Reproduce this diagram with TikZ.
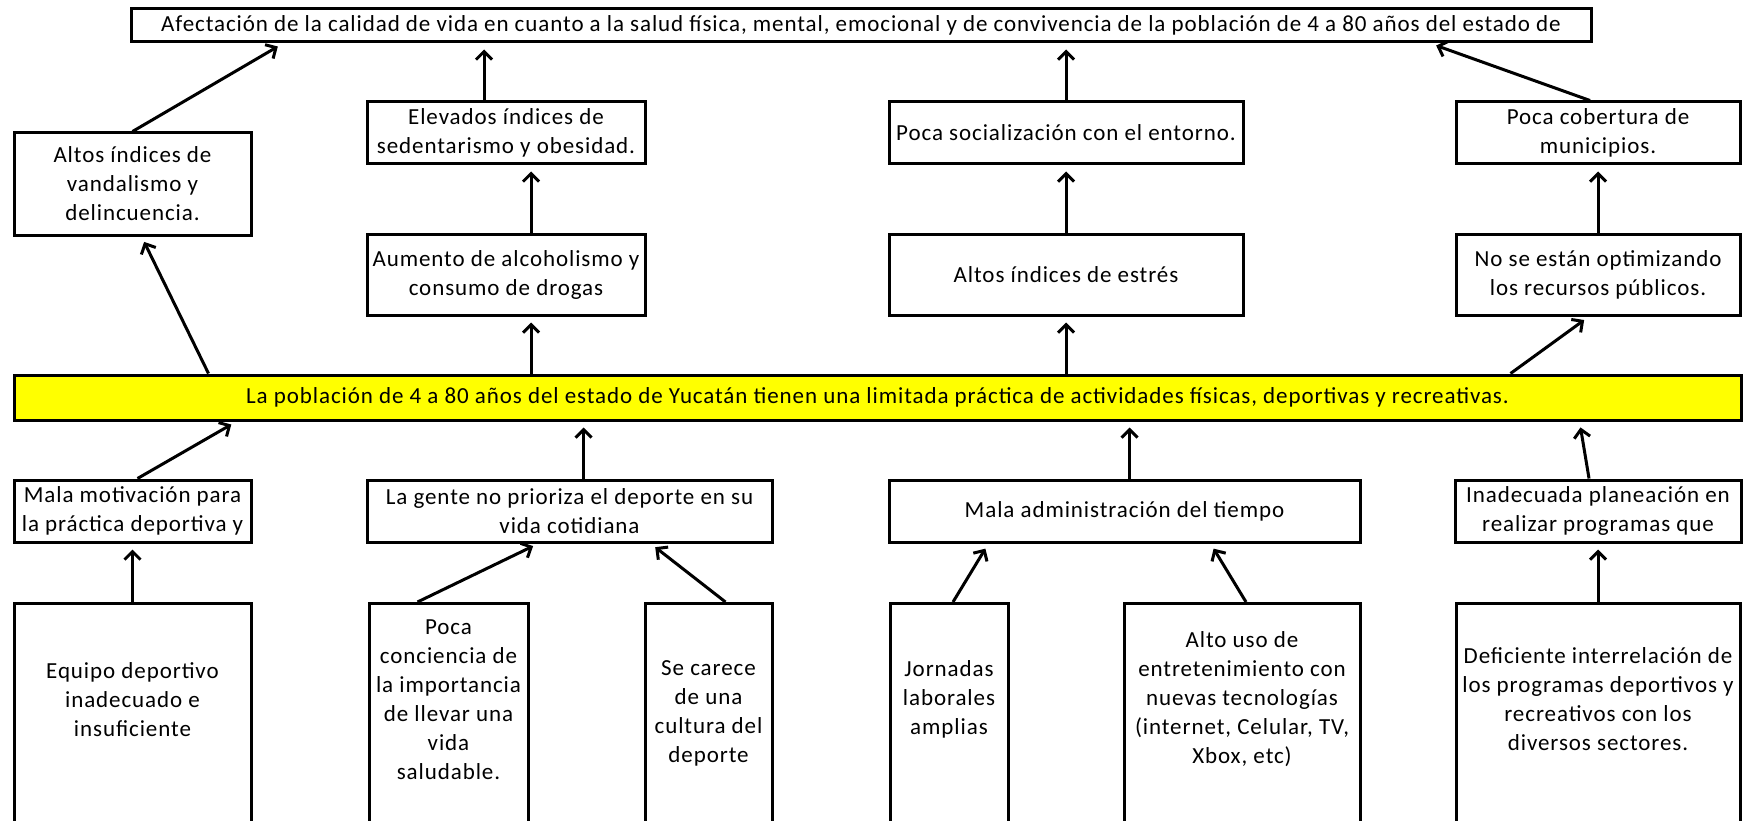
\documentclass[tikz,border=0pt]{standalone}
\usepackage{fontspec}
\setmainfont{Carlito}[LetterSpace=4]
\usetikzlibrary{arrows.meta,positioning}
\definecolor{amarillo}{HTML}{FFFF00}

\tikzset{
  caja/.style={draw,line width=3pt,align=center,inner xsep=2pt,inner ysep=0pt},
  efecto/.style={caja,minimum height=62pt},
  causa/.style={caja,minimum height=228pt,anchor=north},
  causatxt/.style={align=center,yshift=18pt},
  flecha/.style={-{Straight Barb[length=8pt,width=16pt]},line width=3pt,shorten >=6pt},
}

\begin{document}
\begin{tikzpicture}[x=1pt,y=-1pt,font=\fontsize{23}{29}\selectfont]
  \useasboundingbox (0,0) rectangle (1750,821);
  % efecto final y problema central
  \node[caja,minimum width=1460pt,minimum height=33pt] (fin) at (861,25.5)
    {Afectación de la calidad de vida en cuanto a la salud física, mental, emocional y de convivencia de la población de 4 a 80 años del estado de};
  \node[caja,fill=amarillo,minimum width=1727pt,minimum height=45pt] (prob) at (877.5,397.5)
    {La población de 4 a 80 años del estado de Yucatán tienen una limitada práctica de actividades físicas, deportivas y recreativas.};

  % efectos
  \node[caja,minimum width=237pt,minimum height=102pt] (e1) at (132.5,184) {Altos índices de\\vandalismo y\\delincuencia.};
  \node[efecto,minimum width=278pt] (e2) at (506,133) {Elevados índices de\\sedentarismo y obesidad.};
  \node[efecto,minimum width=354pt] (e3) at (1066,133) {Poca socialización con el entorno.};
  \node[efecto,minimum width=284pt] (e4) at (1598,133) {Poca cobertura de\\municipios.};
  \node[caja,minimum width=278pt,minimum height=81pt] (e5) at (506,274.5) {Aumento de alcoholismo y\\consumo de drogas};
  \node[caja,minimum width=354pt,minimum height=81pt] (e6) at (1066,274.5) {Altos índices de estrés};
  \node[caja,minimum width=284pt,minimum height=81pt] (e7) at (1598,274.5) {No se están optimizando\\los recursos públicos.};

  % causas
  \node[efecto,minimum width=237pt] (c1) at (132.5,511) {Mala motivación para\\la práctica deportiva y};
  \node[efecto,minimum width=405pt] (c2) at (569.5,511) {La gente no prioriza el deporte en su\\vida cotidiana};
  \node[efecto,minimum width=471pt] (c3) at (1124.5,511) {Mala administración del tiempo};
  \node[efecto,minimum width=286pt] (c4) at (1598,511) {Inadecuada planeación en\\realizar programas que};

  % causas de fondo
  \node[causa,minimum width=237pt,label={[causatxt]center:{Equipo deportivo\\inadecuado e\\insuficiente}}] (r1) at (132.5,602) {};
  \node[causa,minimum width=159pt,label={[causatxt]center:{Poca\\conciencia de\\la importancia\\de llevar una\\vida\\saludable.}}] (r2) at (448.5,602) {};
  \node[causa,minimum width=127pt,label={[causatxt,yshift=-14pt]center:{Se carece\\de una\\cultura del\\deporte}}] (r3) at (708.5,602) {};
  \node[causa,minimum width=118pt,label={[causatxt]center:{Jornadas\\laborales\\amplias}}] (r4) at (949,602) {};
  \node[causa,minimum width=236pt,label={[causatxt]center:{Alto uso de\\entretenimiento con\\nuevas tecnologías\\(internet, Celular, TV,\\Xbox, etc)}}] (r5) at (1242,602) {};
  \node[causa,minimum width=284pt,label={[causatxt]center:{Deficiente interrelación de\\los programas deportivos y\\recreativos con los\\diversos sectores.}}] (r6) at (1598,602) {};

  % flechas hacia arriba
  \draw[flecha] (e1.north) -- ([xshift=-578pt]fin.south);
  \draw[flecha] ([xshift=-22pt]e2.north) -- ([xshift=-22pt]e2.north |- fin.south);
  \draw[flecha] (e3.north) -- (e3.north |- fin.south);
  \draw[flecha] ([xshift=-8pt]e4.north) -- ([xshift=-162pt]fin.south east);
  \draw[flecha] ([xshift=25pt]e5.north) -- ([xshift=25pt]e2.south);
  \draw[flecha] (e6.north) -- (e3.south);
  \draw[flecha] (e7.north) -- (e4.south);
  \draw[flecha] ([xshift=196pt]prob.north west) -- ([xshift=9pt]e1.south);
  \draw[flecha] ([xshift=25pt]e5.south |- prob.north) -- ([xshift=25pt]e5.south);
  \draw[flecha] (e6.south |- prob.north) -- (e6.south);
  \draw[flecha] ([xshift=-232pt]prob.north east) -- ([xshift=-9pt]e7.south);

  \draw[flecha] ([xshift=5pt]c1.north) -- ([xshift=224pt]prob.south west);
  \draw[flecha] ([xshift=14pt]c2.north) -- ([xshift=14pt]c2.north |- prob.south);
  \draw[flecha] ([xshift=5pt]c3.north) -- ([xshift=5pt]c3.north |- prob.south);
  \draw[flecha] ([xshift=-9pt]c4.north) -- ([xshift=-163pt]prob.south east);
  \draw[flecha] (r1.north) -- (c1.south);
  \draw[flecha] ([xshift=-31pt]r2.north) -- ([xshift=173pt]c2.south west);
  \draw[flecha] ([xshift=17pt]r3.north) -- ([xshift=-123pt]c2.south east);
  \draw[flecha] ([xshift=4pt]r4.north) -- ([xshift=101pt]c3.south west);
  \draw[flecha] ([xshift=4pt]r5.north) -- ([xshift=-151pt]c3.south east);
  \draw[flecha] (r6.north) -- (c4.south);
\end{tikzpicture}
\end{document}
